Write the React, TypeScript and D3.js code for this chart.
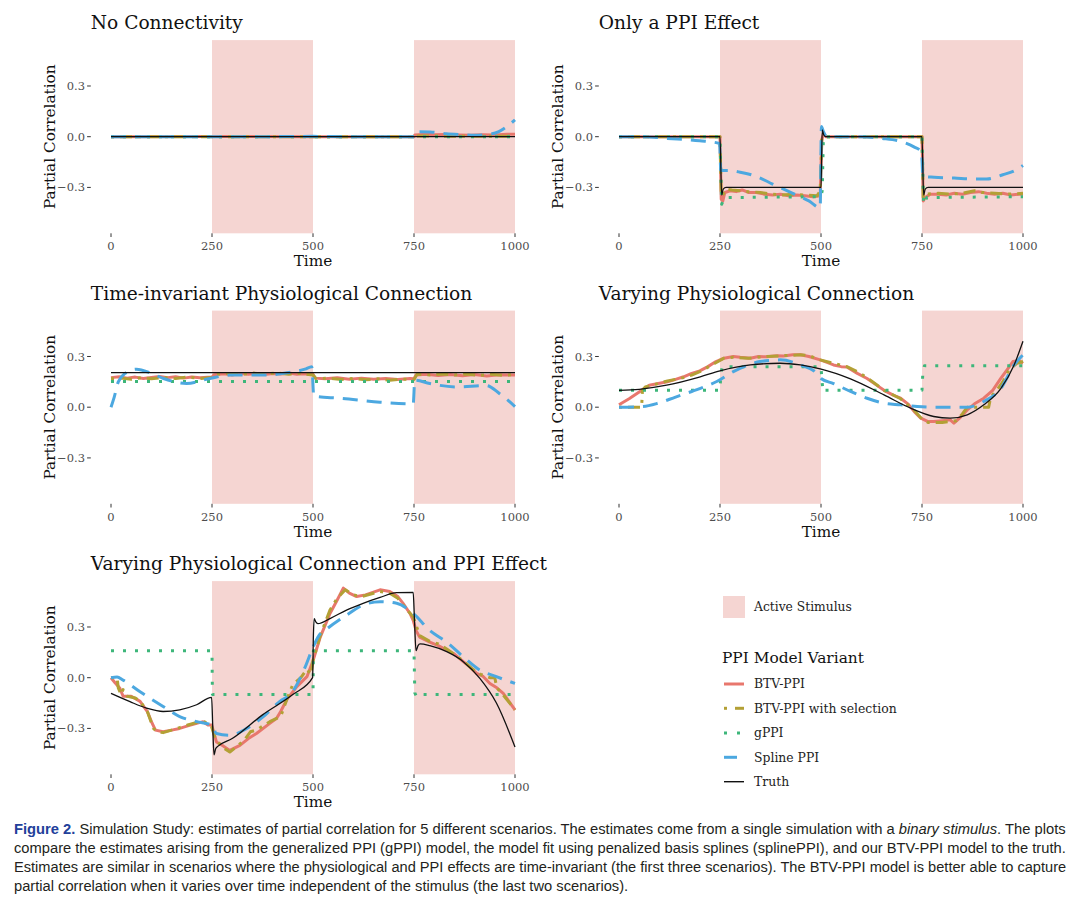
import React, { useLayoutEffect, useRef, useState } from 'react';
import * as d3 from 'd3';

type Pt = [number, number];

// ---------- shared axis / category data ----------
const xTicks = [0, 250, 500, 750, 1000];
const yTicks = [-0.3, 0, 0.3];
const stimulusBlocks: Pt[] = [[250, 500], [750, 1000]];
const seriesNames = ['BTV-PPI', 'BTV-PPI with selection', 'gPPI', 'Spline PPI', 'Truth'];
const panelTitles = [
  'No Connectivity',
  'Only a PPI Effect',
  'Time-invariant Physiological Connection',
  'Varying Physiological Connection',
  'Varying Physiological Connection and PPI Effect',
];

// ---------- Panel 1: No Connectivity ----------
const p1Btv: Pt[] = [[0, 0], [250, 0.001], [500, 0], [750, 0], [752, 0.01], [780, 0.014], [800, 0.011], [830, 0.013], [860, 0.01], [890, 0.008], [920, 0.012], [950, 0.01], [980, 0.015], [1000, 0.014]];
const p1Sel: Pt[] = [[0, 0], [750, 0], [760, 0.004], [850, 0.003], [1000, 0.003]];
const p1Gppi: Pt[] = [[0, 0], [1000, 0]];
const p1Spline: Pt[] = [[0, 0], [300, 0], [450, 0.001], [500, 0.002], [600, 0], [750, 0], [755, 0.03], [790, 0.028], [830, 0.018], [870, 0.012], [900, 0.008], [930, 0.012], [960, 0.03], [980, 0.06], [1000, 0.1]];
const p1Truth: Pt[] = [[0, 0], [1000, 0]];

// ---------- Panel 2: Only a PPI Effect ----------
const p2Btv: Pt[] = [[0, 0], [250, 0], [253, -0.37], [257, -0.38], [262, -0.33], [275, -0.32], [290, -0.325], [305, -0.315], [320, -0.33], [340, -0.33], [360, -0.34], [380, -0.345], [400, -0.34], [420, -0.35], [440, -0.345], [460, -0.35], [480, -0.355], [498, -0.35], [502, -0.02], [506, 0.02], [512, 0], [750, 0], [753, -0.38], [758, -0.36], [770, -0.34], [790, -0.34], [810, -0.345], [830, -0.335], [850, -0.34], [870, -0.33], [890, -0.325], [910, -0.335], [930, -0.34], [950, -0.335], [970, -0.345], [990, -0.34], [1000, -0.34]];
const p2Sel: Pt[] = [[0, 0], [250, 0], [253, -0.35], [258, -0.34], [265, -0.31], [280, -0.315], [300, -0.32], [320, -0.325], [350, -0.33], [380, -0.34], [400, -0.345], [430, -0.34], [460, -0.345], [490, -0.35], [498, -0.32], [502, -0.01], [510, 0], [750, 0], [753, -0.36], [760, -0.34], [790, -0.335], [820, -0.34], [850, -0.335], [880, -0.32], [900, -0.33], [930, -0.335], [960, -0.34], [1000, -0.335]];
const p2Gppi: Pt[] = [[0, 0], [250, 0], [254, -0.4], [262, -0.36], [500, -0.355], [503, -0.32], [506, 0], [750, 0], [754, -0.4], [762, -0.36], [1000, -0.355]];
const p2Spline: Pt[] = [[0, 0], [60, 0], [120, -0.01], [200, -0.024], [249, -0.04], [252, -0.2], [270, -0.2], [300, -0.21], [340, -0.235], [380, -0.28], [430, -0.335], [470, -0.38], [498, -0.42], [501, 0.06], [506, 0.03], [515, 0], [600, 0], [650, -0.01], [700, -0.03], [730, -0.06], [749, -0.09], [752, -0.235], [780, -0.24], [830, -0.245], [880, -0.25], [910, -0.25], [950, -0.225], [980, -0.2], [1000, -0.17]];
const p2Truth: Pt[] = [[0, 0], [250, 0], [254, -0.345], [258, -0.31], [265, -0.3], [500, -0.3], [503, 0.04], [507, 0.01], [512, 0], [750, 0], [754, -0.345], [758, -0.31], [765, -0.3], [1000, -0.3]];

// ---------- Panel 3: Time-invariant Physiological Connection ----------
const p3Btv: Pt[] = [[0, 0.175], [20, 0.18], [40, 0.172], [60, 0.178], [80, 0.17], [100, 0.176], [120, 0.182], [140, 0.175], [160, 0.18], [180, 0.172], [200, 0.178], [220, 0.174], [250, 0.178], [255, 0.192], [280, 0.198], [300, 0.19], [320, 0.2], [340, 0.195], [360, 0.2], [380, 0.193], [400, 0.2], [420, 0.196], [440, 0.202], [460, 0.195], [480, 0.198], [500, 0.195], [505, 0.172], [530, 0.168], [560, 0.174], [590, 0.166], [620, 0.172], [650, 0.165], [680, 0.17], [710, 0.164], [740, 0.17], [750, 0.168], [755, 0.19], [780, 0.195], [810, 0.188], [840, 0.194], [870, 0.186], [900, 0.193], [930, 0.185], [960, 0.192], [1000, 0.19]];
const p3Sel: Pt[] = [[0, 0.168], [25, 0.172], [50, 0.165], [75, 0.175], [100, 0.168], [130, 0.176], [160, 0.17], [190, 0.178], [220, 0.17], [250, 0.175], [258, 0.195], [290, 0.2], [320, 0.194], [350, 0.202], [380, 0.196], [410, 0.203], [440, 0.195], [470, 0.2], [500, 0.19], [508, 0.168], [540, 0.172], [570, 0.164], [600, 0.17], [630, 0.162], [660, 0.168], [690, 0.16], [720, 0.166], [750, 0.164], [758, 0.196], [790, 0.19], [820, 0.197], [850, 0.19], [880, 0.196], [910, 0.188], [940, 0.195], [970, 0.188], [1000, 0.193]];
const p3Gppi: Pt[] = [[0, 0.152], [1000, 0.152]];
const p3Spline: Pt[] = [[0, 0], [8, 0.06], [18, 0.15], [35, 0.2], [63, 0.225], [100, 0.2], [130, 0.17], [187, 0.14], [245, 0.17], [295, 0.19], [377, 0.19], [441, 0.205], [480, 0.225], [497, 0.24], [502, 0.065], [567, 0.053], [666, 0.03], [748, 0.02], [752, 0.16], [789, 0.14], [855, 0.12], [929, 0.128], [962, 0.08], [1000, 0.004]];
const p3Truth: Pt[] = [[0, 0.205], [1000, 0.205]];

// ---------- Panel 4: Varying Physiological Connection ----------
const p4Btv: Pt[] = [[0, 0.014], [25, 0.05], [50, 0.09], [75, 0.13], [97, 0.14], [120, 0.15], [140, 0.165], [160, 0.18], [180, 0.2], [200, 0.215], [220, 0.24], [240, 0.27], [260, 0.29], [283, 0.3], [300, 0.295], [325, 0.29], [345, 0.3], [366, 0.298], [390, 0.305], [407, 0.303], [430, 0.31], [449, 0.31], [470, 0.3], [498, 0.28], [515, 0.265], [531, 0.25], [550, 0.24], [564, 0.238], [590, 0.2], [614, 0.17], [635, 0.135], [656, 0.1], [680, 0.07], [697, 0.053], [715, 0.02], [731, -0.026], [747, -0.065], [765, -0.085], [779, -0.085], [800, -0.08], [820, -0.075], [829, -0.095], [845, -0.06], [862, -0.016], [880, 0.02], [903, 0.053], [925, 0.1], [945, 0.17], [960, 0.22], [975, 0.27], [990, 0.275], [1000, 0.26]];
const p4Sel: Pt[] = [[0, 0], [50, 0], [56, 0], [58, 0.1], [65, 0.12], [97, 0.14], [120, 0.155], [160, 0.175], [180, 0.19], [200, 0.21], [230, 0.25], [260, 0.29], [283, 0.295], [320, 0.29], [366, 0.3], [407, 0.305], [449, 0.31], [470, 0.305], [498, 0.28], [531, 0.26], [564, 0.24], [590, 0.21], [614, 0.175], [656, 0.1], [697, 0.05], [731, -0.02], [750, -0.07], [765, -0.09], [800, -0.09], [835, -0.08], [850, -0.04], [862, 0], [915, 0], [920, 0.06], [935, 0.1], [950, 0.15], [965, 0.22], [985, 0.26], [1000, 0.27]];
const p4Gppi: Pt[] = [[0, 0.1], [250, 0.1], [252, 0.2], [256, 0.24], [500, 0.24], [502, 0.17], [505, 0.09], [510, 0.1], [750, 0.1], [752, 0.2], [756, 0.245], [1000, 0.245]];
const p4Spline: Pt[] = [[0, 0], [58, 0.004], [97, 0.024], [140, 0.06], [180, 0.093], [242, 0.152], [283, 0.21], [320, 0.25], [349, 0.27], [399, 0.28], [449, 0.25], [490, 0.2], [500, 0.17], [531, 0.14], [573, 0.093], [614, 0.053], [656, 0.024], [697, 0.014], [738, 0.004], [779, 0], [820, 0], [862, 0], [903, 0.034], [945, 0.11], [978, 0.25], [1000, 0.31]];
const p4Truth: Pt[] = [[0, 0.1], [50, 0.106], [118, 0.13], [201, 0.18], [250, 0.215], [325, 0.25], [399, 0.26], [449, 0.25], [498, 0.227], [573, 0.168], [656, 0.073], [722, -0.006], [779, -0.055], [820, -0.065], [862, -0.045], [903, 0.014], [945, 0.11], [978, 0.25], [1000, 0.39]];

// ---------- Panel 5: Varying Physiological Connection and PPI Effect ----------
const p5Btv: Pt[] = [[0, 0], [10, -0.03], [22, -0.063], [30, -0.11], [50, -0.11], [72, -0.14], [90, -0.2], [100, -0.26], [110, -0.31], [129, -0.32], [150, -0.31], [170, -0.3], [190, -0.285], [212, -0.27], [228, -0.26], [240, -0.28], [249, -0.28], [261, -0.38], [275, -0.4], [294, -0.43], [319, -0.4], [340, -0.36], [360, -0.33], [393, -0.27], [410, -0.24], [420, -0.2], [435, -0.13], [460, -0.053], [485, 0.006], [500, 0.1], [518, 0.24], [542, 0.38], [560, 0.46], [575, 0.53], [590, 0.5], [608, 0.48], [630, 0.49], [666, 0.52], [690, 0.51], [710, 0.48], [723, 0.44], [740, 0.38], [748, 0.34], [755, 0.28], [764, 0.24], [789, 0.21], [810, 0.19], [831, 0.164], [850, 0.14], [872, 0.095], [890, 0.06], [905, 0.026], [920, 0.01], [938, -0.034], [955, -0.06], [971, -0.093], [985, -0.14], [1000, -0.19]];
const p5Sel: Pt[] = [[0, 0], [15, 0], [18, -0.06], [25, -0.1], [30, -0.07], [40, -0.11], [60, -0.12], [72, -0.14], [90, -0.2], [105, -0.3], [115, -0.32], [129, -0.325], [150, -0.31], [170, -0.295], [190, -0.28], [212, -0.265], [228, -0.255], [249, -0.29], [258, -0.36], [275, -0.41], [294, -0.44], [310, -0.41], [330, -0.37], [345, -0.32], [360, -0.31], [393, -0.26], [420, -0.23], [435, -0.13], [450, -0.04], [470, 0], [485, 0.05], [495, 0.02], [500, 0.1], [518, 0.25], [542, 0.4], [560, 0.47], [580, 0.52], [600, 0.49], [620, 0.48], [650, 0.5], [666, 0.51], [690, 0.5], [710, 0.47], [723, 0.43], [748, 0.36], [764, 0.25], [789, 0.215], [810, 0.2], [831, 0.17], [872, 0.1], [895, 0.05], [915, 0.02], [938, 0], [950, 0], [955, -0.06], [970, -0.1], [1000, -0.19]];
const p5Gppi: Pt[] = [[0, 0.16], [250, 0.16], [251, -0.1], [500, -0.1], [501, 0.16], [750, 0.16], [752, -0.09], [756, -0.11], [760, -0.1], [1000, -0.1]];
const p5Spline: Pt[] = [[0, 0], [15, 0.004], [30, -0.014], [72, -0.083], [129, -0.17], [170, -0.23], [212, -0.26], [249, -0.28], [261, -0.33], [294, -0.34], [336, -0.3], [377, -0.23], [418, -0.14], [447, -0.09], [480, 0.06], [500, 0.18], [515, 0.25], [535, 0.29], [583, 0.37], [624, 0.43], [666, 0.45], [707, 0.44], [748, 0.38], [789, 0.28], [831, 0.21], [872, 0.124], [913, 0.045], [954, 0.006], [1000, -0.034]];
const p5Truth: Pt[] = [[0, -0.093], [47, -0.142], [88, -0.18], [129, -0.2], [170, -0.19], [212, -0.16], [249, -0.116], [252, -0.3], [255, -0.457], [259, -0.42], [265, -0.405], [300, -0.36], [375, -0.22], [450, -0.1], [499, 0], [501, 0.25], [503, 0.35], [507, 0.33], [512, 0.32], [542, 0.35], [583, 0.4], [624, 0.44], [666, 0.475], [707, 0.503], [748, 0.505], [751, 0.35], [755, 0.16], [760, 0.19], [765, 0.2], [789, 0.19], [831, 0.154], [872, 0.095], [913, -0.004], [954, -0.15], [1000, -0.41]];

// ---------- caption ----------
const captionLabel = 'Figure 2.';
const captionLine1a = ' Simulation Study: estimates of partial correlation for 5 different scenarios. The estimates come from a single simulation with a ';
const captionLine1Italic = 'binary stimulus';
const captionLine1b = '. The plots';
const captionLine2 = 'compare the estimates arising from the generalized PPI (gPPI) model, the model fit using penalized basis splines (splinePPI), and our BTV-PPI model to the truth.';
const captionLine3 = 'Estimates are similar in scenarios where the physiological and PPI effects are time-invariant (the first three scenarios). The BTV-PPI model is better able to capture';
const captionLine4 = 'partial correlation when it varies over time independent of the stimulus (the last two scenarios).';

// ---------- styling (not data) ----------
const seriesStyle = [
  { color: '#E8776D', width: 3, dash: '', curve: 'linear' },
  { color: '#B3A035', width: 3, dash: '3,6,12,6', curve: 'linear' },
  { color: '#3DB67A', width: 3, dash: '3,9', curve: 'linear' },
  { color: '#4CA8E0', width: 3, dash: '15,9', curve: 'smooth' },
  { color: '#111111', width: 1.3, dash: '', curve: 'smooth' },
];
const shadeColor = '#F5D5D2';
const FONT = '"DejaVu Serif", serif';

const panels = [
  { title: panelTitles[0], col: 0, row: 0, data: [p1Btv, p1Sel, p1Gppi, p1Spline, p1Truth] },
  { title: panelTitles[1], col: 1, row: 0, data: [p2Btv, p2Sel, p2Gppi, p2Spline, p2Truth] },
  { title: panelTitles[2], col: 0, row: 1, data: [p3Btv, p3Sel, p3Gppi, p3Spline, p3Truth] },
  { title: panelTitles[3], col: 1, row: 1, data: [p4Btv, p4Sel, p4Gppi, p4Spline, p4Truth] },
  { title: panelTitles[4], col: 0, row: 2, data: [p5Btv, p5Sel, p5Gppi, p5Spline, p5Truth] },
];

const X0 = [111, 619];
const XW = 404;
const ZERO0 = 136.7;
const ROWSTEP = 270.5;
const HALF = 96.6;
const YMAX = 0.5715;

function Panel({ p }: { p: (typeof panels)[number] }) {
  const xs = d3.scaleLinear().domain([0, 1000]).range([X0[p.col], X0[p.col] + XW]);
  const zero = ZERO0 + ROWSTEP * p.row;
  const ys = d3.scaleLinear().domain([-YMAX, YMAX]).range([zero + HALF, zero - HALF]);
  const left = xs(-50);
  const right = xs(1050);
  const top = ys(YMAX);
  const bottom = ys(-YMAX);
  return (
    <g>
      <text x={left} y={top - 10.7} fontFamily={FONT} fontSize={18.6} fill="#111">{p.title}</text>
      {stimulusBlocks.map((b, i) => (
        <rect key={i} x={xs(b[0])} y={top} width={xs(b[1]) - xs(b[0])} height={bottom - top} fill={shadeColor} />
      ))}
      {p.data.map((d, i) => {
        const st = seriesStyle[i];
        const line = d3.line<Pt>().x(v => xs(v[0])).y(v => ys(v[1]))
          .curve(st.curve === 'smooth' ? d3.curveMonotoneX : d3.curveLinear);
        return (
          <path key={i} d={line(d) || ''} fill="none" stroke={st.color} strokeWidth={st.width}
            strokeDasharray={st.dash || undefined} strokeLinejoin="round" />
        );
      })}
      {yTicks.map(t => (
        <g key={t}>
          <line x1={left - 3.7} x2={left} y1={ys(t)} y2={ys(t)} stroke="#333" strokeWidth={1} />
          <text x={left - 5.8} y={ys(t)} dy="0.35em" textAnchor="end" fontFamily={FONT} fontSize={11.5} fill="#4D4D4D">
            {t === 0 ? '0.0' : d3.format('.1f')(t)}
          </text>
        </g>
      ))}
      {xTicks.map(t => (
        <g key={t}>
          <line x1={xs(t)} x2={xs(t)} y1={bottom} y2={bottom + 3.7} stroke="#333" strokeWidth={1} />
          <text x={xs(t)} y={bottom + 16.7} textAnchor="middle" fontFamily={FONT} fontSize={11.5} fill="#4D4D4D">{t}</text>
        </g>
      ))}
      <text x={(left + right) / 2} y={bottom + 32.7} textAnchor="middle" fontFamily={FONT} fontSize={15.3} fill="#111">Time</text>
      <text transform={`translate(${left - 36},${zero}) rotate(-90)`} textAnchor="middle" fontFamily={FONT} fontSize={15.3} fill="#111">
        Partial Correlation
      </text>
    </g>
  );
}

function Legend() {
  const lx = 724;
  const rows = [684, 708.3, 733, 757.3, 781.7];
  const keys = [
    [[0, 20]],
    [[0, 3], [11, 20]],
    [[0, 3], [13, 16]],
    [[0, 13]],
    [[0, 20]],
  ];
  return (
    <g fontFamily={FONT}>
      <rect x={723} y={596} width={22} height={22} fill={shadeColor} />
      <text x={754} y={607} dy="0.35em" fontSize={12.3} fill="#222">Active Stimulus</text>
      <text x={722} y={657.5} dy="0.35em" fontSize={15.4} fill="#111">PPI Model Variant</text>
      {seriesNames.map((n, i) => (
        <g key={n}>
          {keys[i].map((k, j) => (
            <line key={j} x1={lx + k[0]} x2={lx + k[1]} y1={rows[i]} y2={rows[i]}
              stroke={seriesStyle[i].color} strokeWidth={i === 4 ? 1.4 : 3} />
          ))}
          <text x={754} y={rows[i]} dy="0.35em" fontSize={12.4} fill="#222">{n}</text>
        </g>
      ))}
    </g>
  );
}

function Caption() {
  const cf = '"Liberation Sans Narrow", "Arial Narrow", "Liberation Sans", Arial, sans-serif';
  const x = 14;
  const targets = [1052, 1052, 1052, 614];
  const ys = [834, 853, 872, 891];
  const refs = [useRef<SVGTextElement>(null), useRef<SVGTextElement>(null), useRef<SVGTextElement>(null), useRef<SVGTextElement>(null)];
  const [scales, setScales] = useState([0.87, 0.87, 0.87, 0.87]);
  useLayoutEffect(() => {
    const s = refs.map((r, i) => {
      const el = r.current;
      if (!el) return 0.87;
      const len = el.getComputedTextLength();
      return len > 0 ? targets[i] / len : 0.87;
    });
    setScales(s);
  }, []);
  const tf = (i: number) => `translate(${x},${ys[i]}) scale(${scales[i]},1)`;
  return (
    <g fontFamily={cf} fontSize={15} fill="#231F20">
      <text ref={refs[0]} transform={tf(0)}>
        <tspan fill="#22409A" fontWeight="bold">{captionLabel}</tspan>
        <tspan>{captionLine1a}</tspan>
        <tspan fontStyle="italic">{captionLine1Italic}</tspan>
        <tspan>{captionLine1b}</tspan>
      </text>
      <text ref={refs[1]} transform={tf(1)}>{captionLine2}</text>
      <text ref={refs[2]} transform={tf(2)}>{captionLine3}</text>
      <text ref={refs[3]} transform={tf(3)}>{captionLine4}</text>
    </g>
  );
}

export default function App() {
  return (
    <div style={{ position: 'absolute', left: 0, top: 0 }}>
      <svg width={1080} height={921} style={{ display: 'block', background: '#fff' }}>
        {panels.map((p, i) => <Panel key={i} p={p} />)}
        <Legend />
        <Caption />
      </svg>
    </div>
  );
}
